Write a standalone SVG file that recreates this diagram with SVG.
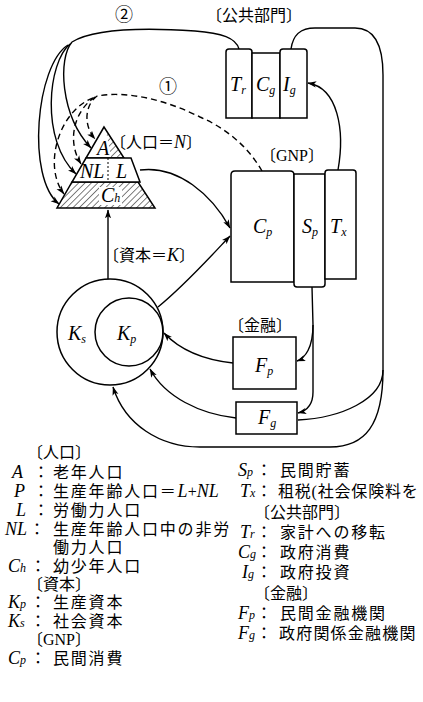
<svg xmlns="http://www.w3.org/2000/svg" width="423" height="702" viewBox="0 0 423 702">
<style>
.ln{fill:none;stroke:#000;stroke-width:1.4}
.ds{stroke-dasharray:6 4}
.bx{fill:#fff;stroke:#000;stroke-width:1.5}
.it{font-family:"Liberation Serif",serif;font-style:italic;font-size:20px}
.li{font-family:"Liberation Serif",serif;font-style:italic;font-size:18px}
.jp{font-family:"Liberation Serif","Noto Sans CJK JP",serif;font-size:16px;letter-spacing:1.8px}
.br{font-family:"Liberation Serif","Noto Sans CJK JP",serif;font-size:16px}
.sb{font-size:12px}
</style>
<defs>
<marker id="ar" viewBox="0 0 10 8" refX="9.5" refY="4" markerWidth="9" markerHeight="7" orient="auto" markerUnits="userSpaceOnUse"><path d="M0,0.5 L10,4 L0,7.5 L2.5,4 z" fill="#000"/></marker>
<pattern id="h" width="4.5" height="4.5" patternUnits="userSpaceOnUse" patternTransform="rotate(45)"><line x1="0" y1="0" x2="0" y2="4.5" stroke="#000" stroke-width="1"/></pattern>
</defs>
<rect width="423" height="702" fill="#fff"/>

<g id="connectors">
<path class="ln" d="M239,49 C236,38 222,33 195,31 C150,28 95,28 72,42"/>
<path class="ln" d="M72,42 C58,58 60,115 91,148" marker-end="url(#ar)"/>
<path class="ln" d="M70,44 C48,62 40,140 76,174" marker-end="url(#ar)"/>
<path class="ln" d="M68,45 C36,65 26,178 59,204" marker-end="url(#ar)"/>
<path class="ln ds" d="M262,171 C250,150 230,130 200,117 C170,102 130,90 97,96"/>
<path class="ln ds" d="M97,96 C85,105 83,125 95,139" marker-end="url(#ar)"/>
<path class="ln ds" d="M95,97 C75,110 66,140 81,164" marker-end="url(#ar)"/>
<path class="ln ds" d="M93,98 C60,110 42,165 64,194" marker-end="url(#ar)"/>
<path class="ln" d="M140,170 C178,165 212,195 230,228" marker-end="url(#ar)"/>
<path class="ln" d="M158,307 C185,285 212,255 230,236" marker-end="url(#ar)"/>
<path class="ln" d="M108,279 L108,210" marker-end="url(#ar)"/>
<path class="ln" d="M338,170 C345,130 338,88 308,83" marker-end="url(#ar)"/>
<path class="ln" d="M312,287 L313,325 C313,348 305,358 297,361" marker-end="url(#ar)"/>
<path class="ln" d="M313,325 L313,392 C313,405 306,411 298,413" marker-end="url(#ar)"/>
<path class="ln" d="M291,49 C293,35 300,28 315,28 L355,28 C375,28 383,45 383,75 L383,370"/>
<path class="ln" d="M383,370 C383,400 340,418 298,420"/>
<path class="ln" d="M383,370 C383,425 365,447 330,447 L200,447 C160,447 125,425 113,387" marker-end="url(#ar)"/>
<path class="ln" d="M233,363 C205,360 180,350 164,333" marker-end="url(#ar)"/>
<path class="ln" d="M236,418 C200,414 165,397 150,369" marker-end="url(#ar)"/>
</g>

<g id="population">
<polygon points="72,182 138,182 155,208 57,208" fill="url(#h)" stroke="#000" stroke-width="1.5"/>
<rect x="99" y="187" width="23" height="18" fill="#fff"/>
<polygon points="104,127 86,158 124,158" fill="#fff" stroke="#000" stroke-width="1.5"/>
<polygon points="106,131 123,157 111,157" fill="url(#h)"/>
<polygon points="86,158 131,158 140,182 72,182" fill="#fff" stroke="#000" stroke-width="1.5"/>
<line x1="108" y1="158" x2="108" y2="182" stroke="#000" stroke-width="1" stroke-dasharray="2 2"/>
<text class="it" x="103" y="155" text-anchor="middle">A</text>
<text class="it" x="80" y="178">NL</text>
<text class="it" x="116" y="178">L</text>
<text class="it" x="101" y="202">C<tspan class="sb">h</tspan></text>
<text class="br" x="110" y="148">〔人口＝<tspan class="it" style="font-size:18px">N</tspan>〕</text>
</g>

<g id="label-1"><text x="168" y="93" font-family="Noto Sans CJK JP,sans-serif" font-size="18px" text-anchor="middle">①</text></g>
<g id="label-2"><text x="124" y="21" font-family="Noto Sans CJK JP,sans-serif" font-size="18px" text-anchor="middle">②</text></g>

<g id="public">
<text class="br" x="206" y="21">〔公共部門〕</text>
<path class="bx" d="M226,118 L226,52 Q226,49 229,49 L249,49 Q252,49 252,52 L252,118 Z"/>
<rect class="bx" x="252" y="53" width="28" height="65"/>
<path class="bx" d="M280,118 L280,52 Q280,49 283,49 L304,49 Q307,49 307,52 L307,118 Z"/>
<text class="it" x="230" y="91">T<tspan class="sb" dy="3">r</tspan></text>
<text class="it" x="256" y="91">C<tspan class="sb" dy="3">g</tspan></text>
<text class="it" x="283" y="91">I<tspan class="sb" dy="3">g</tspan></text>
</g>

<g id="gnp">
<text class="br" x="260" y="161">〔GNP〕</text>
<path class="bx" d="M231,282 L231,175 Q231,171 235,171 L290,171 Q294,171 294,175 L294,282 Z"/>
<path class="bx" d="M294,174 L325,174 L325,284 Q325,287 322,287 L297,287 Q294,287 294,284 Z"/>
<path class="bx" d="M325,279 L325,173 Q325,170 328,170 L353,170 Q356,170 356,173 L356,279 Z"/>
<text class="it" x="253" y="233">C<tspan class="sb" dy="3">p</tspan></text>
<text class="it" x="302" y="233">S<tspan class="sb" dy="3">p</tspan></text>
<text class="it" x="330" y="233">T<tspan class="sb" dy="3">x</tspan></text>
</g>

<g id="finance">
<text class="br" x="228" y="331">〔金融〕</text>
<rect class="bx" x="233" y="337" width="63" height="52"/>
<text class="it" x="255" y="372">F<tspan class="sb" dy="3">p</tspan></text>
<rect class="bx" x="236" y="402" width="61" height="32"/>
<text class="it" x="258" y="424">F<tspan class="sb" dy="3">g</tspan></text>
</g>

<g id="capital">
<text class="br" x="103" y="261">〔資本＝<tspan class="it" style="font-size:18px">K</tspan>〕</text>
<circle cx="110" cy="332" r="53" fill="none" stroke="#000" stroke-width="1.5"/>
<circle cx="129" cy="332" r="34" fill="none" stroke="#000" stroke-width="1.5"/>
<text class="it" x="68" y="340">K<tspan class="sb" dy="3">s</tspan></text>
<text class="it" x="117" y="340">K<tspan class="sb" dy="3">p</tspan></text>
</g>

<g id="legend">
<text class="br" x="27" y="458">〔人口〕</text>
<text class="li" x="12" y="478">A</text><text class="br" x="33" y="478">：</text><text class="jp" x="53" y="478">老年人口</text>
<text class="li" x="14" y="497">P</text><text class="br" x="33" y="497">：</text><text class="jp" x="53" y="497">生産年齢人口＝<tspan class="li" style="letter-spacing:0">L</tspan><tspan style="font-family:'Liberation Serif',serif;letter-spacing:0">+</tspan><tspan class="li" style="letter-spacing:0">NL</tspan></text>
<text class="li" x="16" y="516">L</text><text class="br" x="33" y="516">：</text><text class="jp" x="53" y="516">労働力人口</text>
<text class="li" x="5" y="535">NL</text><text class="br" x="29" y="535">：</text><text class="jp" x="53" y="535">生産年齢人口中の非労</text>
<text class="jp" x="53" y="553">働力人口</text>
<text class="li" x="8" y="572">C<tspan class="sb">h</tspan></text><text class="br" x="30" y="572">：</text><text class="jp" x="53" y="572">幼少年人口</text>
<text class="br" x="27" y="590">〔資本〕</text>
<text class="li" x="8" y="608">K<tspan class="sb">p</tspan></text><text class="br" x="30" y="608">：</text><text class="jp" x="53" y="608">生産資本</text>
<text class="li" x="8" y="627">K<tspan class="sb">s</tspan></text><text class="br" x="30" y="627">：</text><text class="jp" x="53" y="627">社会資本</text>
<text class="br" x="27" y="645">〔GNP〕</text>
<text class="li" x="8" y="664">C<tspan class="sb">p</tspan></text><text class="br" x="30" y="664">：</text><text class="jp" x="53" y="664">民間消費</text>

<text class="li" x="238" y="476">S<tspan class="sb">p</tspan></text><text class="br" x="256" y="476">：</text><text class="jp" x="280" y="476">民間貯蓄</text>
<text class="li" x="240" y="497">T<tspan class="sb">x</tspan></text><text class="br" x="256" y="497">：</text><text class="jp" x="278" y="497" style="letter-spacing:0.8px">租税(社会保険料を</text>
<text class="br" x="254" y="518">〔公共部門〕</text>
<text class="li" x="240" y="538">T<tspan class="sb">r</tspan></text><text class="br" x="256" y="538">：</text><text class="jp" x="280" y="538">家計への移転</text>
<text class="li" x="238" y="558">C<tspan class="sb">g</tspan></text><text class="br" x="256" y="558">：</text><text class="jp" x="280" y="558">政府消費</text>
<text class="li" x="242" y="578">I<tspan class="sb">g</tspan></text><text class="br" x="256" y="578">：</text><text class="jp" x="280" y="578">政府投資</text>
<text class="br" x="254" y="599">〔金融〕</text>
<text class="li" x="238" y="619">F<tspan class="sb">p</tspan></text><text class="br" x="256" y="619">：</text><text class="jp" x="280" y="619">民間金融機関</text>
<text class="li" x="238" y="639">F<tspan class="sb">g</tspan></text><text class="br" x="256" y="639">：</text><text class="jp" x="279" y="639" style="letter-spacing:1.2px">政府関係金融機関</text>
</g>
</svg>
